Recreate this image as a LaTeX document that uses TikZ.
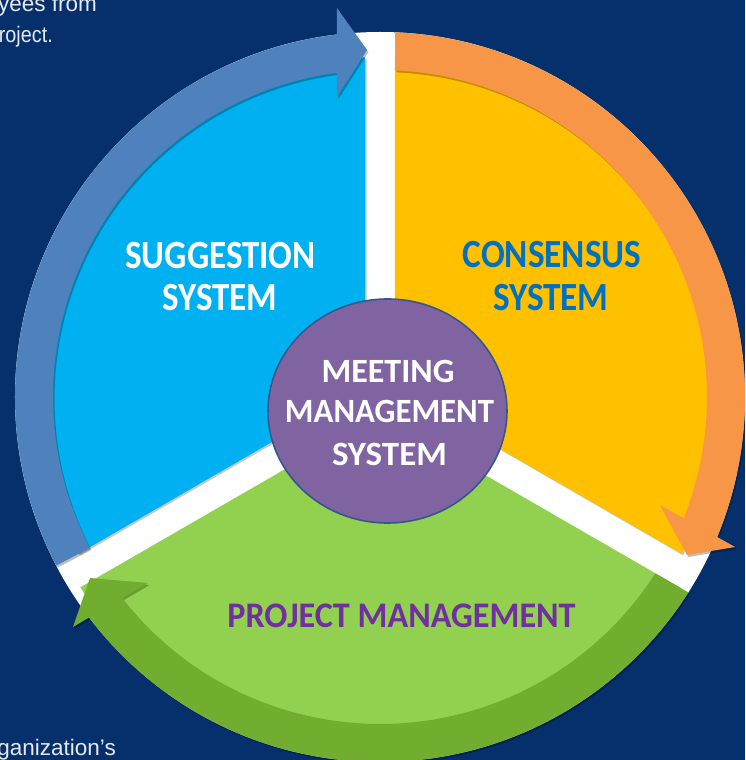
\documentclass[tikz,border=0pt]{standalone}
\usepackage{fontspec}
\setmainfont{Carlito}
\newfontfamily\bodyfont{Liberation Sans}
\definecolor{bgnavy}{HTML}{05306B}
\definecolor{skyfill}{HTML}{00B0F0}
\definecolor{steelband}{HTML}{4F81BD}
\definecolor{yellowfill}{HTML}{FFC000}
\definecolor{orangeband}{HTML}{F79646}
\definecolor{lightgreen}{HTML}{92D050}
\definecolor{darkgreen}{HTML}{71AD2F}
\definecolor{purplefill}{HTML}{8064A2}
\definecolor{purpleedge}{HTML}{35568C}
\definecolor{consblue}{HTML}{0070C0}
\definecolor{projpurple}{HTML}{7030A0}
\definecolor{bodytext}{HTML}{E6E9EF}
\newcommand\squeezetext[2]{\scalebox{#1}[1]{#2}}
\tikzset{
  sectorshadow/.style={fill=black, opacity=0.22},
  bandshadow/.style={fill=black, opacity=0.25},
  bigtext/.style={font=\bfseries\fontsize{40}{48}\selectfont, anchor=base, inner sep=0pt},
  midtext/.style={font=\bfseries\fontsize{34}{40}\selectfont, anchor=base, inner sep=0pt, text=white},
  projtext/.style={font=\bfseries\fontsize{36}{42}\selectfont, anchor=base, inner sep=0pt, text=projpurple},
  sidetext/.style={font=\bodyfont\fontsize{22.5}{27}\selectfont, anchor=base east, inner sep=0pt, text=bodytext}
}
\begin{document}
\begin{tikzpicture}[x=1pt,y=1pt]
\useasboundingbox (-380,-363) rectangle (365,397);
\clip (-380,-363) rectangle (365,397);
\fill[bgnavy] (-380,-363) rectangle (365,397);

% side text
\node[sidetext] (t1) at (-283,385) {employees from};
\node[sidetext] (t2) at (-327,354) {\squeezetext{0.88}{project.}};
\node[sidetext] (t3) at (-264,-358) {organization’s};

% white disc
\fill[white] (0,0) circle (365);

% sector shadows
\fill[sectorshadow] ([shift={(1.5,-1.5)}]150:17.32) -- ([shift={(1.5,-1.5)}]92.53:340) arc[start angle=92.53, end angle=207.47, radius=340] -- cycle;
\fill[sectorshadow] ([shift={(1.5,-1.5)}]30:17.32) -- ([shift={(1.5,-1.5)}]-27.47:340) arc[start angle=-27.47, end angle=87.47, radius=340] -- cycle;
\fill[sectorshadow] ([shift={(1.5,-1.5)}]270:17.32) -- ([shift={(1.5,-1.5)}]212.42:355) arc[start angle=212.42, end angle=327.58, radius=355] -- cycle;

% sectors
\fill[skyfill] (150:17.32) -- (92.53:340) arc[start angle=92.53, end angle=207.47, radius=340] -- cycle;
\fill[yellowfill] (30:17.32) -- (-27.47:340) arc[start angle=-27.47, end angle=87.47, radius=340] -- cycle;
\fill[lightgreen] (270:17.32) -- (212.42:355) arc[start angle=212.42, end angle=327.58, radius=355] -- cycle;

% band shadows
\begin{scope}[shift={(1.5,-2)}]
\fill[bandshadow] (207.5:365) arc[start angle=207.5, end angle=96.77, radius=365] -- (-43,389) -- (-13,347) -- (-43,300) -- (97.56:327) arc[start angle=97.56, end angle=207.5, radius=327] -- cycle;
\fill[bandshadow] (87.64:365) arc[start angle=87.64, end angle=-22.55, radius=365] -- (355,-150) -- (307,-158) -- (280,-108) -- (-21.77:327) arc[start angle=-21.77, end angle=87.37, radius=327] -- cycle;
\fill[bandshadow] (-32.36:365) arc[start angle=-32.36, end angle=-142.84, radius=365] -- (-307,-230) -- (-290,-181) -- (-232,-186) -- (-142.04:327) arc[start angle=-142.04, end angle=-32.63, radius=327] -- cycle;
\end{scope}

% bands with arrowheads
\fill[steelband] (207.5:365) arc[start angle=207.5, end angle=96.77, radius=365] -- (-43,389) -- (-13,347) -- (-43,300) -- (97.56:327) arc[start angle=97.56, end angle=207.5, radius=327] -- cycle;
\fill[orangeband] (87.64:365) arc[start angle=87.64, end angle=-22.55, radius=365] -- (355,-150) -- (307,-158) -- (280,-108) -- (-21.77:327) arc[start angle=-21.77, end angle=87.37, radius=327] -- cycle;
\fill[darkgreen] (-32.36:365) arc[start angle=-32.36, end angle=-142.84, radius=365] -- (-307,-230) -- (-290,-181) -- (-232,-186) -- (-142.04:327) arc[start angle=-142.04, end angle=-32.63, radius=327] -- cycle;

% centre circle
\draw[fill=purplefill, draw=purpleedge, line width=1.6pt] (7.5,-14) ellipse [x radius=119.5, y radius=112];

% labels
\node[bigtext, text=white] (s1) at (-159.5,128.5) {\squeezetext{0.875}{SUGGESTION}};
\node[bigtext, text=white] (s2) at (-160,86) {\squeezetext{0.875}{SYSTEM}};
\node[bigtext, text=consblue] (c1) at (172,129) {\squeezetext{0.88}{CONSENSUS}};
\node[bigtext, text=consblue] (c2) at (171,86) {\squeezetext{0.88}{SYSTEM}};
\node[midtext] (m1) at (8,14) {MEETING};
\node[midtext] (m2) at (9.5,-26) {\squeezetext{0.965}{MANAGEMENT}};
\node[midtext] (m3) at (9.5,-68) {\squeezetext{1.03}{SYSTEM}};
\node[projtext] (p1) at (21.5,-230) {\squeezetext{0.95}{PROJECT MANAGEMENT}};
\end{tikzpicture}
\end{document}
